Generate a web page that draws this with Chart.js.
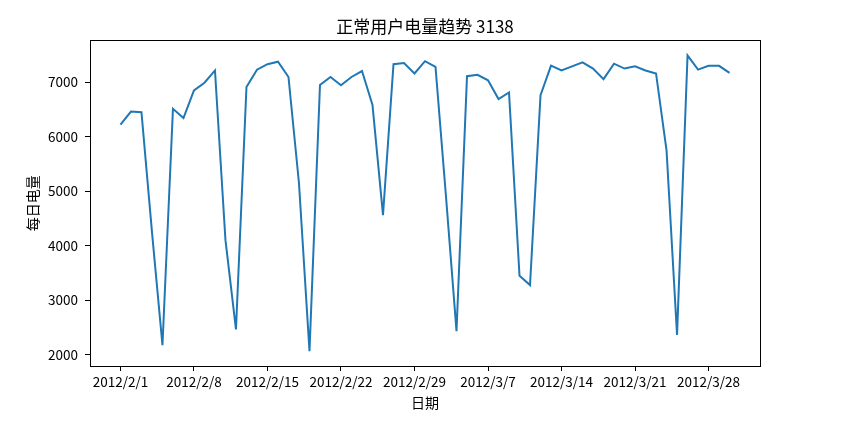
<!DOCTYPE html>
<html>
<head>
<meta charset="utf-8">
<script src="https://cdn.jsdelivr.net/npm/chart.js@4.4.1/dist/chart.umd.min.js"></script>
<style>
html,body{margin:0;padding:0;background:#fff;}
#wrap{width:865px;height:431px;}
</style>
</head>
<body>
<div id="wrap"><canvas id="c" width="865" height="431"></canvas></div>
<script>
const dates = [
 '2012/2/1','2012/2/2','2012/2/3','2012/2/4','2012/2/5','2012/2/6','2012/2/7','2012/2/8','2012/2/9','2012/2/10',
 '2012/2/11','2012/2/12','2012/2/13','2012/2/14','2012/2/15','2012/2/16','2012/2/17','2012/2/18','2012/2/19','2012/2/20',
 '2012/2/21','2012/2/22','2012/2/23','2012/2/24','2012/2/25','2012/2/26','2012/2/27','2012/2/28','2012/2/29','2012/3/1',
 '2012/3/2','2012/3/3','2012/3/4','2012/3/5','2012/3/6','2012/3/7','2012/3/8','2012/3/9','2012/3/10','2012/3/11',
 '2012/3/12','2012/3/13','2012/3/14','2012/3/15','2012/3/16','2012/3/17','2012/3/18','2012/3/19','2012/3/20','2012/3/21',
 '2012/3/22','2012/3/23','2012/3/24','2012/3/25','2012/3/26','2012/3/27','2012/3/28','2012/3/29','2012/3/30'
];
const dailyPower = [
 6220, 6460, 6450, 4250, 2170, 6510, 6340, 6850, 6990, 7215,
 4100, 2460, 6910, 7230, 7330, 7375, 7095, 5145, 2060, 6950,
 7095, 6945, 7095, 7205, 6580, 4560, 7330, 7350, 7160, 7385,
 7280, 4900, 2430, 7110, 7135, 7035, 6690, 6810, 3445, 3275,
 6760, 7305, 7215, 7290, 7365, 7250, 7055, 7340, 7250, 7290,
 7215, 7160, 5750, 2360, 7490, 7230, 7300, 7300, 7170
];
const xTickLabels = ['2012/2/1','2012/2/8','2012/2/15','2012/2/22','2012/2/29','2012/3/7','2012/3/14','2012/3/21','2012/3/28'];
const yTickValues = [2000, 3000, 4000, 5000, 6000, 7000];
const chartTitle = '正常用户电量趋势 3138';
const xTitle = '日期';
const yTitle = '每日电量';

const FONT = '"Noto Sans CJK SC", "DejaVu Sans", sans-serif';
const points = dailyPower.map((v, i) => ({x: i, y: v}));
const xTickPos = xTickLabels.map(l => dates.indexOf(l));

const frame = {
  id: 'frame',
  afterDraw(chart) {
    const a = chart.chartArea, ctx = chart.ctx;
    ctx.save();
    ctx.strokeStyle = '#000';
    ctx.lineWidth = 1;
    ctx.strokeRect(Math.round(a.left) + 0.5, Math.round(a.top) + 0.5, Math.round(a.right - a.left), Math.round(a.bottom - a.top));
    ctx.restore();
  }
};

new Chart(document.getElementById('c'), {
  type: 'line',
  data: {
    datasets: [{
      data: points,
      borderColor: '#1f77b4',
      borderWidth: 2,
      pointRadius: 0,
      tension: 0,
      fill: false
    }]
  },
  options: {
    responsive: false,
    animation: false,
    layout: {padding: {left: 0, right: 105, top: 0, bottom: 0}},
    plugins: {
      legend: {display: false},
      tooltip: {enabled: false},
      title: {
        display: true,
        fullSize: false,
        text: chartTitle,
        color: '#000',
        font: {family: FONT, size: 17, weight: 'normal'},
        padding: {top: 16, bottom: 4}
      }
    },
    scales: {
      x: {
        type: 'linear',
        min: -2.9,
        max: 60.9,
        afterFit(s) { s.height = 65; },
        afterBuildTicks(s) { s.ticks = xTickPos.map(v => ({value: v})); },
        ticks: {
          autoSkip: false,
          maxRotation: 0,
          color: '#000',
          padding: 3,
          font: {family: FONT, size: 13.5},
          callback: (v) => dates[v]
        },
        grid: {display: true, drawOnChartArea: false, drawTicks: true, tickLength: 5, color: '#000'},
        border: {display: false},
        title: {display: true, text: xTitle, color: '#000', font: {family: FONT, size: 14}, padding: {top: 0, bottom: 20}}
      },
      y: {
        type: 'linear',
        min: 1789,
        max: 7767,
        afterFit(s) { s.width = 90; },
        afterBuildTicks(s) { s.ticks = yTickValues.map(v => ({value: v})); },
        ticks: {
          color: '#000',
          padding: 7,
          font: {family: FONT, size: 13.5},
          callback: (v) => String(v)
        },
        grid: {display: true, drawOnChartArea: false, drawTicks: true, tickLength: 5, color: '#000'},
        border: {display: false},
        title: {display: true, text: yTitle, color: '#000', font: {family: FONT, size: 14}, padding: {top: 24, bottom: 0}}
      }
    }
  },
  plugins: [frame]
});
</script>
</body>
</html>
